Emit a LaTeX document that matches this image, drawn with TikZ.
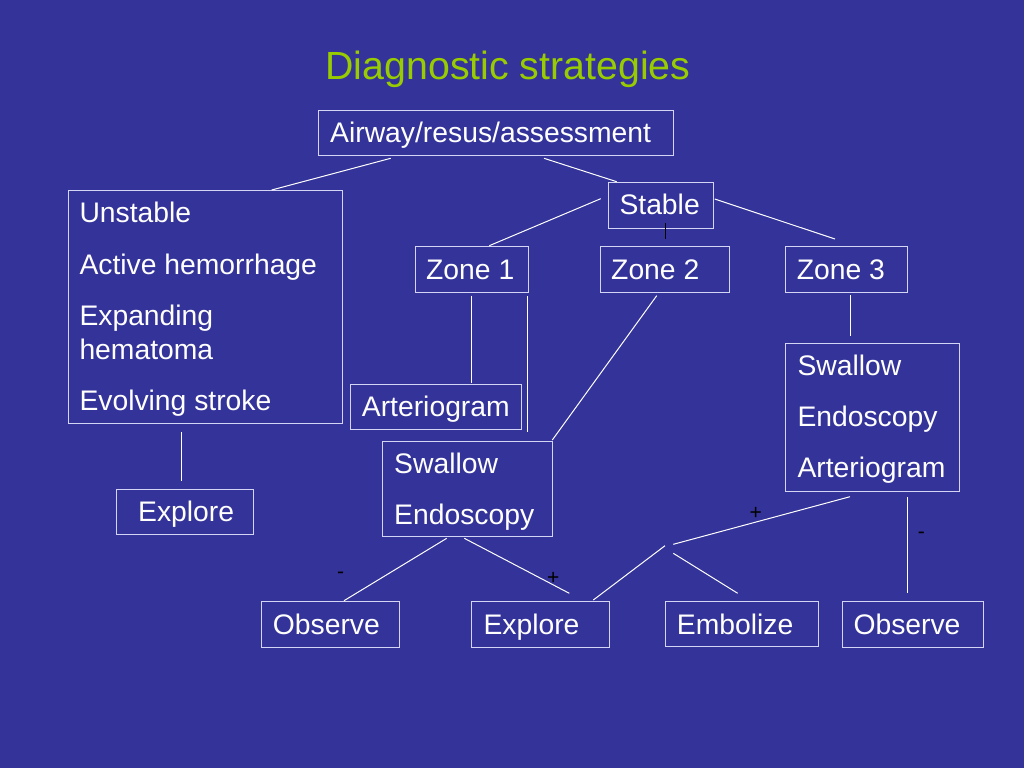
\documentclass[tikz,border=0pt]{standalone}
\usepackage{fontspec}
\setmainfont{Liberation Sans}
\definecolor{bg}{HTML}{333399}
\definecolor{titlec}{HTML}{99CC00}
\definecolor{boxc}{HTML}{D4D4F4}
\begin{document}
\begin{tikzpicture}[x=1pt,y=-1pt,
  box/.style={draw=boxc,line width=1pt,inner sep=0pt,outer sep=0pt,anchor=north west},
  txt/.style={anchor=base west,inner sep=0pt,text=white,font=\fontsize{28.3}{33}\selectfont},
  conn/.style={draw=white,line width=1pt},
  sign/.style={inner sep=0pt,text=black,font=\fontsize{21}{24}\selectfont}]
\fill[bg] (0,0) rectangle (1024,768);
\useasboundingbox (0,0) rectangle (1024,768);
% title
\node[anchor=base,inner sep=0pt,text=titlec,font=\fontsize{39.3}{44}\selectfont] (title) at (508,79) {Diagnostic strategies};
% boxes
\node[box,minimum width=355pt,minimum height=45pt] (air) at (318,110) {};
\node[box,minimum width=274.4pt,minimum height=232.6pt] (unst) at (68.3,190.7) {};
\node[box,minimum width=137pt,minimum height=45pt] (exl) at (116.7,489) {};
\node[box,minimum width=105.4pt,minimum height=45.7pt] (stab) at (608.3,182.3) {};
\node[box,minimum width=113.3pt,minimum height=46pt] (z1) at (415,246.7) {};
\node[box,minimum width=129.4pt,minimum height=46pt] (z2) at (600.3,246.7) {};
\node[box,minimum width=121.6pt,minimum height=46pt] (z3) at (785.7,246.7) {};
\node[box,minimum width=170.3pt,minimum height=45.3pt] (art) at (350.7,384) {};
\node[box,minimum width=169.6pt,minimum height=95.7pt] (se) at (382.7,441) {};
\node[box,minimum width=174pt,minimum height=148pt] (sea) at (785.7,343.7) {};
\node[box,minimum width=137.6pt,minimum height=45.6pt] (obs1) at (261.7,601.7) {};
\node[box,minimum width=137.3pt,minimum height=45.6pt] (exp2) at (471.7,601.7) {};
\node[box,minimum width=153.3pt,minimum height=45pt] (emb) at (665,601.7) {};
\node[box,minimum width=141pt,minimum height=45.3pt] (obs2) at (842.3,601.7) {};
% texts
\node[txt] (tair) at (330,142.7) {Airway/resus/assessment};
\node[txt] (tu1) at (79.3,222.7) {Unstable};
\node[txt] (tu2) at (79.3,274.3) {Active hemorrhage};
\node[txt] (tu3) at (79.3,325.7) {Expanding};
\node[txt] (tu4) at (79.3,359) {hematoma};
\node[txt] (tu5) at (79.3,410) {Evolving stroke};
\node[txt] (texl) at (138,521.7) {Explore};
\node[txt] (tstab) at (619.3,214.3) {Stable};
\node[txt] (tz1) at (426,279) {Zone 1};
\node[txt] (tz2) at (611,279) {Zone 2};
\node[txt] (tz3) at (796.7,279) {Zone 3};
\node[txt] (tart) at (361.7,416.7) {Arteriogram};
\node[txt] (tse1) at (394,473.3) {Swallow};
\node[txt] (tse2) at (394,524.3) {Endoscopy};
\node[txt] (tsea1) at (797.3,375) {Swallow};
\node[txt] (tsea2) at (797.3,426.7) {Endoscopy};
\node[txt] (tsea3) at (797.3,477.3) {Arteriogram};
\node[txt] (tobs1) at (272.7,634.3) {Observe};
\node[txt] (texp2) at (483.3,634.3) {Explore};
\node[txt] (temb) at (676.7,634.3) {Embolize};
\node[txt] (tobs2) at (853.3,634.3) {Observe};
% connector end points
\coordinate (c1a) at (390.7,158.3); \coordinate (c1b) at (271.7,190);
\coordinate (c2a) at (544,158.3);   \coordinate (c2b) at (616.7,181.7);
\coordinate (c3a) at (600.7,198.7); \coordinate (c3b) at (489.3,245.7);
\coordinate (c4a) at (665.7,223.3); \coordinate (c4b) at (665.7,239);
\coordinate (c5a) at (714.7,199);   \coordinate (c5b) at (835,239);
\coordinate (c6a) at (471.7,295.7); \coordinate (c6b) at (471.7,383.3);
\coordinate (c7a) at (527.7,296);   \coordinate (c7b) at (527.7,431.7);
\coordinate (c8a) at (656.7,295.7); \coordinate (c8b) at (552.3,440);
\coordinate (c9a) at (181,432.3);   \coordinate (c9b) at (181,480.7);
\coordinate (c10a) at (850.3,295);  \coordinate (c10b) at (850.3,335.7);
\coordinate (c11a) at (446.7,538.3); \coordinate (c11b) at (344,600.7);
\coordinate (c12a) at (464.3,538.3); \coordinate (c12b) at (569.3,593.3);
\coordinate (c13a) at (593.3,600);  \coordinate (c13b) at (665,545.7);
\coordinate (c14a) at (673.3,544.3); \coordinate (c14b) at (850,496.7);
\coordinate (c15a) at (673.3,553.3); \coordinate (c15b) at (737.7,593.3);
\coordinate (c16a) at (907.3,497.3); \coordinate (c16b) at (907.3,592.7);
% connectors
\draw[conn] (c1a) -- (c1b);
\draw[conn] (c2a) -- (c2b);
\draw[conn] (c3a) -- (c3b);
\draw[line width=1pt,black] (c4a) -- (c4b);
\draw[conn] (c5a) -- (c5b);
\draw[conn] (c6a) -- (c6b);
\draw[conn] (c7a) -- (c7b);
\draw[conn] (c8a) -- (c8b);
\draw[conn] (c9a) -- (c9b);
\draw[conn] (c10a) -- (c10b);
\draw[conn] (c11a) -- (c11b);
\draw[conn] (c12a) -- (c12b);
\draw[conn] (c13a) -- (c13b);
\draw[conn] (c14a) -- (c14b);
\draw[conn] (c15a) -- (c15b);
\draw[conn] (c16a) -- (c16b);
% signs
\node[sign] (s1) at (340.7,575) {-};
\node[sign] (s2) at (553.3,578.3) {+};
\node[sign] (s3) at (755.7,513.3) {+};
\node[sign] (s4) at (921.3,535) {-};
\end{tikzpicture}
\end{document}
